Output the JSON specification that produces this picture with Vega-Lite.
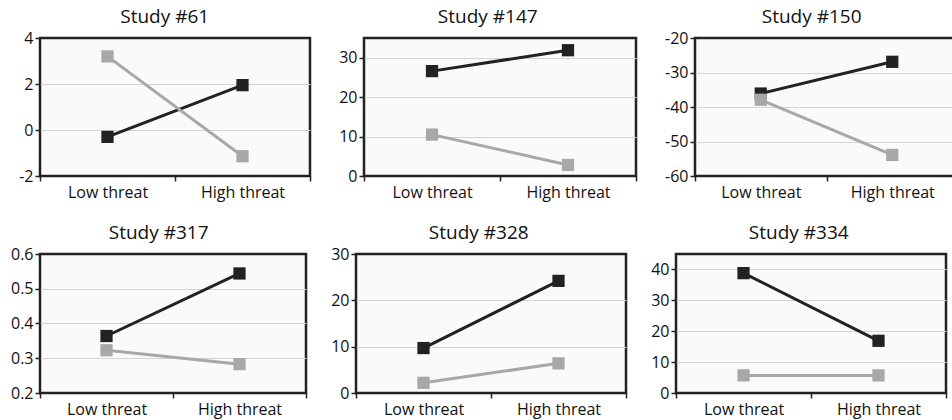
{
  "$schema": "https://vega.github.io/schema/vega-lite/v6.json",
  "background": "white",
  "padding": {"left": 9, "top": 6, "right": 0, "bottom": 0},
  "spacing": 20,
  "config": {
    "font": "Open Sans",
    "view": {"fill": "#fafafa", "stroke": "#222222", "strokeWidth": 2.5},
    "title": {"fontSize": 19, "fontWeight": "normal", "color": "#111111", "offset": 3, "anchor": "middle", "frame": "bounds"},
    "axis": {"labelFont": "Open Sans", "labelFontSize": 16, "labelColor": "#111111", "tickColor": "#222222", "domain": false, "title": null},
    "axisY": {"grid": true, "gridColor": "#d4d4d4", "gridWidth": 1, "tickSize": 5, "tickWidth": 1.5, "labelPadding": 2},
    "axisX": {"grid": false, "tickSize": 5, "tickWidth": 1.5, "tickBand": "extent", "labelPadding": 3, "labelAngle": 0}
  },
  "data": {"values": [
    {"study": "61", "threat": "Low threat", "group": "Group 1", "value": -0.3},
    {"study": "61", "threat": "High threat", "group": "Group 1", "value": 1.95},
    {"study": "61", "threat": "Low threat", "group": "Group 2", "value": 3.2},
    {"study": "61", "threat": "High threat", "group": "Group 2", "value": -1.14},
    {"study": "147", "threat": "Low threat", "group": "Group 1", "value": 26.6},
    {"study": "147", "threat": "High threat", "group": "Group 1", "value": 31.9},
    {"study": "147", "threat": "Low threat", "group": "Group 2", "value": 10.5},
    {"study": "147", "threat": "High threat", "group": "Group 2", "value": 2.8},
    {"study": "150", "threat": "Low threat", "group": "Group 1", "value": -36.1},
    {"study": "150", "threat": "High threat", "group": "Group 1", "value": -26.9},
    {"study": "150", "threat": "Low threat", "group": "Group 2", "value": -37.9},
    {"study": "150", "threat": "High threat", "group": "Group 2", "value": -53.9},
    {"study": "317", "threat": "Low threat", "group": "Group 1", "value": 0.364},
    {"study": "317", "threat": "High threat", "group": "Group 1", "value": 0.544},
    {"study": "317", "threat": "Low threat", "group": "Group 2", "value": 0.323},
    {"study": "317", "threat": "High threat", "group": "Group 2", "value": 0.283},
    {"study": "328", "threat": "Low threat", "group": "Group 1", "value": 9.7},
    {"study": "328", "threat": "High threat", "group": "Group 1", "value": 24.2},
    {"study": "328", "threat": "Low threat", "group": "Group 2", "value": 2.2},
    {"study": "328", "threat": "High threat", "group": "Group 2", "value": 6.4},
    {"study": "334", "threat": "Low threat", "group": "Group 1", "value": 38.8},
    {"study": "334", "threat": "High threat", "group": "Group 1", "value": 16.9},
    {"study": "334", "threat": "Low threat", "group": "Group 2", "value": 5.7},
    {"study": "334", "threat": "High threat", "group": "Group 2", "value": 5.7}
  ]},
  "vconcat": [
    {
      "spacing": 25,
      "hconcat": [
        {
          "title": "Study #61", "width": 270, "height": 138,
          "view": {"fill": "#fafafa", "stroke": "#222222", "strokeWidth": 2.5},
          "transform": [{"filter": "datum.study === '61'"}],
          "encoding": {
            "x": {"field": "threat", "type": "nominal", "sort": ["Low threat", "High threat"], "scale": {"type": "band", "paddingInner": 0, "paddingOuter": 0}},
            "y": {"field": "value", "type": "quantitative", "scale": {"domain": [-2, 4], "nice": false, "zero": false}, "axis": {"values": [-2, 0, 2, 4], "labelExpr": "replace(datum.label, '\u2212', '-')", "gridOpacity": {"condition": {"test": "datum.value === -2 || datum.value === 4", "value": 0}, "value": 1}}},
            "color": {"field": "group", "type": "nominal", "scale": {"domain": ["Group 1", "Group 2"], "range": ["#222222", "#a8a8a8"]}, "legend": null}
          },
          "layer": [
            {"mark": {"type": "line", "strokeWidth": 3}},
            {"mark": {"type": "square", "size": 150, "opacity": 1, "filled": true}}
          ]
        },
        {
          "title": {"text": "Study #147", "offset": 11}, "width": 272, "height": 138,
          "view": {"fill": "#fafafa", "stroke": "#222222", "strokeWidth": 2.5},
          "transform": [{"filter": "datum.study === '147'"}],
          "encoding": {
            "x": {"field": "threat", "type": "nominal", "sort": ["Low threat", "High threat"], "scale": {"type": "band", "paddingInner": 0, "paddingOuter": 0}},
            "y": {"field": "value", "type": "quantitative", "scale": {"domain": [0, 35], "nice": false, "zero": false}, "axis": {"values": [0, 10, 20, 30], "gridOpacity": {"condition": {"test": "datum.value === 0", "value": 0}, "value": 1}}},
            "color": {"field": "group", "type": "nominal", "scale": {"domain": ["Group 1", "Group 2"], "range": ["#222222", "#a8a8a8"]}, "legend": null}
          },
          "layer": [
            {"mark": {"type": "line", "strokeWidth": 3}},
            {"mark": {"type": "square", "size": 150, "opacity": 1, "filled": true}}
          ]
        },
        {
          "title": "Study #150", "width": 263, "height": 138,
          "view": {"fill": "#fafafa", "stroke": "#222222", "strokeWidth": 2.5},
          "transform": [{"filter": "datum.study === '150'"}],
          "encoding": {
            "x": {"field": "threat", "type": "nominal", "sort": ["Low threat", "High threat"], "scale": {"type": "band", "paddingInner": 0, "paddingOuter": 0}},
            "y": {"field": "value", "type": "quantitative", "scale": {"domain": [-60, -20], "nice": false, "zero": false}, "axis": {"values": [-60, -50, -40, -30, -20], "labelExpr": "replace(datum.label, '\u2212', '-')", "gridOpacity": {"condition": {"test": "datum.value === -60 || datum.value === -20", "value": 0}, "value": 1}}},
            "color": {"field": "group", "type": "nominal", "scale": {"domain": ["Group 1", "Group 2"], "range": ["#222222", "#a8a8a8"]}, "legend": null}
          },
          "layer": [
            {"mark": {"type": "line", "strokeWidth": 3}},
            {"mark": {"type": "square", "size": 150, "opacity": 1, "filled": true}}
          ]
        }
      ]
    },
    {
      "spacing": 21,
      "hconcat": [
        {
          "title": "Study #317", "width": 266, "height": 139,
          "view": {"fill": "#fafafa", "stroke": "#222222", "strokeWidth": 2.5},
          "transform": [{"filter": "datum.study === '317'"}],
          "encoding": {
            "x": {"field": "threat", "type": "nominal", "sort": ["Low threat", "High threat"], "scale": {"type": "band", "paddingInner": 0, "paddingOuter": 0}},
            "y": {"field": "value", "type": "quantitative", "scale": {"domain": [0.2, 0.6], "nice": false, "zero": false}, "axis": {"values": [0.2, 0.3, 0.4, 0.5, 0.6], "format": ".1f", "gridOpacity": {"condition": {"test": "datum.value < 0.25 || datum.value > 0.55", "value": 0}, "value": 1}}},
            "color": {"field": "group", "type": "nominal", "scale": {"domain": ["Group 1", "Group 2"], "range": ["#222222", "#a8a8a8"]}, "legend": null}
          },
          "layer": [
            {"mark": {"type": "line", "strokeWidth": 3}},
            {"mark": {"type": "square", "size": 150, "opacity": 1, "filled": true}}
          ]
        },
        {
          "title": "Study #328", "width": 270, "height": 139,
          "view": {"fill": "#fafafa", "stroke": "#222222", "strokeWidth": 2.5},
          "transform": [{"filter": "datum.study === '328'"}],
          "encoding": {
            "x": {"field": "threat", "type": "nominal", "sort": ["Low threat", "High threat"], "scale": {"type": "band", "paddingInner": 0, "paddingOuter": 0}},
            "y": {"field": "value", "type": "quantitative", "scale": {"domain": [0, 30], "nice": false, "zero": false}, "axis": {"values": [0, 10, 20, 30], "gridOpacity": {"condition": {"test": "datum.value === 0 || datum.value === 30", "value": 0}, "value": 1}}},
            "color": {"field": "group", "type": "nominal", "scale": {"domain": ["Group 1", "Group 2"], "range": ["#222222", "#a8a8a8"]}, "legend": null}
          },
          "layer": [
            {"mark": {"type": "line", "strokeWidth": 3}},
            {"mark": {"type": "square", "size": 150, "opacity": 1, "filled": true}}
          ]
        },
        {
          "title": {"text": "Study #334", "offset": 11}, "width": 270, "height": 139,
          "view": {"fill": "#fafafa", "stroke": "#222222", "strokeWidth": 2.5},
          "transform": [{"filter": "datum.study === '334'"}],
          "encoding": {
            "x": {"field": "threat", "type": "nominal", "sort": ["Low threat", "High threat"], "scale": {"type": "band", "paddingInner": 0, "paddingOuter": 0}},
            "y": {"field": "value", "type": "quantitative", "scale": {"domain": [0, 45], "nice": false, "zero": false}, "axis": {"values": [0, 10, 20, 30, 40], "gridOpacity": {"condition": {"test": "datum.value === 0", "value": 0}, "value": 1}}},
            "color": {"field": "group", "type": "nominal", "scale": {"domain": ["Group 1", "Group 2"], "range": ["#222222", "#a8a8a8"]}, "legend": null}
          },
          "layer": [
            {"mark": {"type": "line", "strokeWidth": 3}},
            {"mark": {"type": "square", "size": 150, "opacity": 1, "filled": true}}
          ]
        }
      ]
    }
  ]
}
